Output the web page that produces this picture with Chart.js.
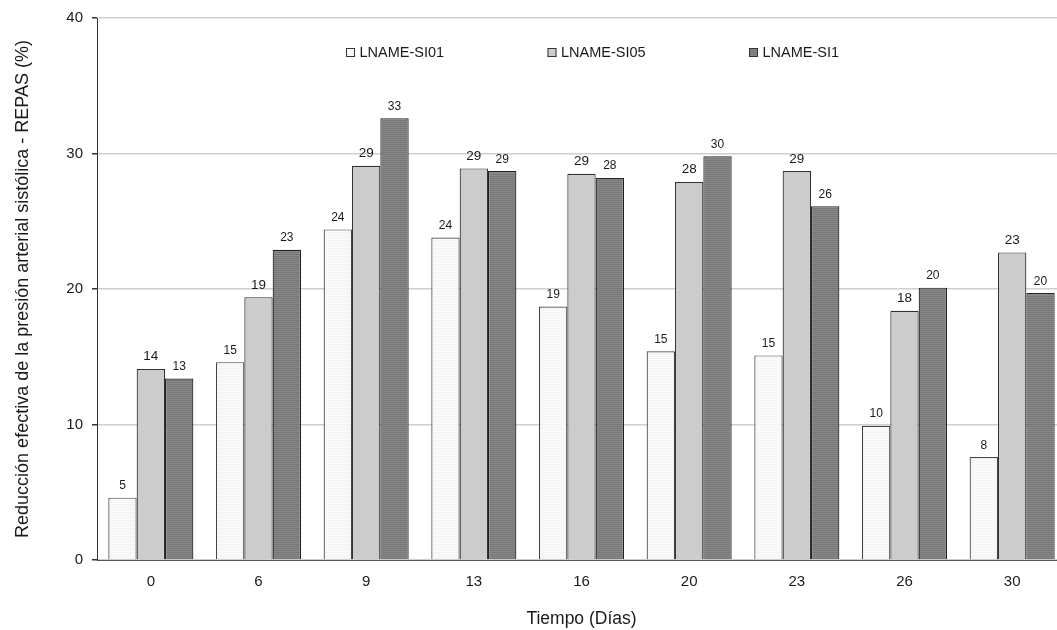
<!DOCTYPE html>
<html>
<head>
<meta charset="utf-8">
<title>REPAS</title>
<script src="https://cdn.jsdelivr.net/npm/chart.js@4"></script>
<style>
  html, body { margin: 0; padding: 0; background: #fff; overflow: hidden; }
  #wrap { width: 1070px; height: 630px; }
</style>
</head>
<body>
<div id="wrap"><canvas id="c" width="1070" height="630"></canvas></div>
<script>
// Days of treatment
const categories = ['0', '6', '9', '13', '16', '20', '23', '26', '30'];
// Effective reduction of systolic pressure (%) per group
const si01 = [4.6, 14.6, 24.4, 23.8, 18.7, 15.4, 15.1, 9.9, 7.6];
const si05 = [14.1, 19.4, 29.1, 28.9, 28.5, 27.9, 28.7, 18.4, 22.7];
const si1  = [13.4, 22.9, 32.6, 28.7, 28.2, 29.8, 26.1, 20.1, 19.7];
const seriesNames = ['LNAME-SI01', 'LNAME-SI05', 'LNAME-SI1'];
const yTicks = [0, 10, 20, 30, 40];

const FONT = '"Liberation Sans", Arial, Helvetica, sans-serif';
const TEXT = '#1a1a1a';

// Horizontal pin-stripe fills
function stripes(a, b) {
  const c = document.createElement('canvas');
  c.width = 4; c.height = 2;
  const g = c.getContext('2d');
  g.fillStyle = a; g.fillRect(0, 0, 4, 1);
  g.fillStyle = b; g.fillRect(0, 1, 4, 1);
  return g.createPattern(c, 'repeat');
}
const ctx = document.getElementById('c').getContext('2d');
const fills = [stripes('#f3f3f3', '#fcfcfc'), '#cccccc', stripes('#777777', '#888888')];
const borders = ['#444444', '#333333', '#222222'];
const labelSizes = [12, 13.5, 12];

// Value labels above each bar
const valueLabels = {
  id: 'valueLabels',
  afterDatasetsDraw(chart) {
    const g = chart.ctx;
    g.save();
    g.fillStyle = TEXT;
    g.textAlign = 'center';
    g.textBaseline = 'alphabetic';
    chart.data.datasets.forEach((ds, i) => {
      const meta = chart.getDatasetMeta(i);
      g.font = labelSizes[i] + 'px ' + FONT;
      meta.data.forEach((bar, j) => {
        g.fillText(String(Math.round(ds.data[j])), bar.x, bar.y - 8.5);
      });
    });
    g.restore();
  }
};

// Legend row inside the plot
const insideLegend = {
  id: 'insideLegend',
  afterDraw(chart) {
    const g = chart.ctx;
    const a = chart.chartArea;
    g.save();
    g.font = '14.5px ' + FONT;
    g.textBaseline = 'middle';
    g.textAlign = 'left';
    chart.data.datasets.forEach((ds, i) => {
      const x = a.left + 249 + i * 201.5;
      const y = a.top + 30;
      g.fillStyle = ds.backgroundColor;
      g.fillRect(x, y, 9, 9);
      g.strokeStyle = '#333';
      g.lineWidth = 1;
      g.strokeRect(x + 0.5, y + 0.5, 8, 8);
      g.fillStyle = TEXT;
      g.fillText(ds.label, x + 13.5, y + 4.5);
    });
    g.restore();
  }
};

const datasets = [si01, si05, si1].map((vals, i) => ({
  label: seriesNames[i],
  data: vals,
  backgroundColor: fills[i],
  borderColor: borders[i],
  borderWidth: 1.2,
  categoryPercentage: 0.79,
  barPercentage: 1.0
}));

new Chart(ctx, {
  type: 'bar',
  data: { labels: categories, datasets },
  options: {
    responsive: false,
    devicePixelRatio: 1,
    animation: false,
    layout: { padding: { top: 16, right: 4, left: 0, bottom: 0 } },
    plugins: { legend: { display: false }, tooltip: { enabled: false } },
    scales: {
      x: {
        grid: { display: false, drawTicks: false },
        border: { display: true, color: '#555', width: 1 },
        ticks: { color: TEXT, font: { family: FONT, size: 15 }, padding: 13, maxRotation: 0 },
        title: { display: true, text: 'Tiempo (Días)', color: TEXT,
                 font: { family: FONT, size: 17.5 }, padding: { top: 0, bottom: 0 } },
        afterFit(s) { s.height = 70; }
      },
      y: {
        min: 0, max: 40,
        afterBuildTicks(s) { s.ticks = yTicks.map(v => ({ value: v })); },
        grid: { color: '#cfcfcf', lineWidth: 1.5, tickColor: '#333', tickLength: 5, drawTicks: true },
        border: { display: true, color: '#333', width: 1 },
        ticks: { color: TEXT, font: { family: FONT, size: 15 }, padding: 9 },
        title: { display: true, text: 'Reducción efectiva de la presión arterial sistólica - REPAS (%)',
                 color: TEXT, font: { family: FONT, size: 18 }, padding: { top: 12, bottom: 0 } },
        afterFit(s) { s.width = 97; }
      }
    }
  },
  plugins: [valueLabels, insideLegend]
});
</script>
</body>
</html>
